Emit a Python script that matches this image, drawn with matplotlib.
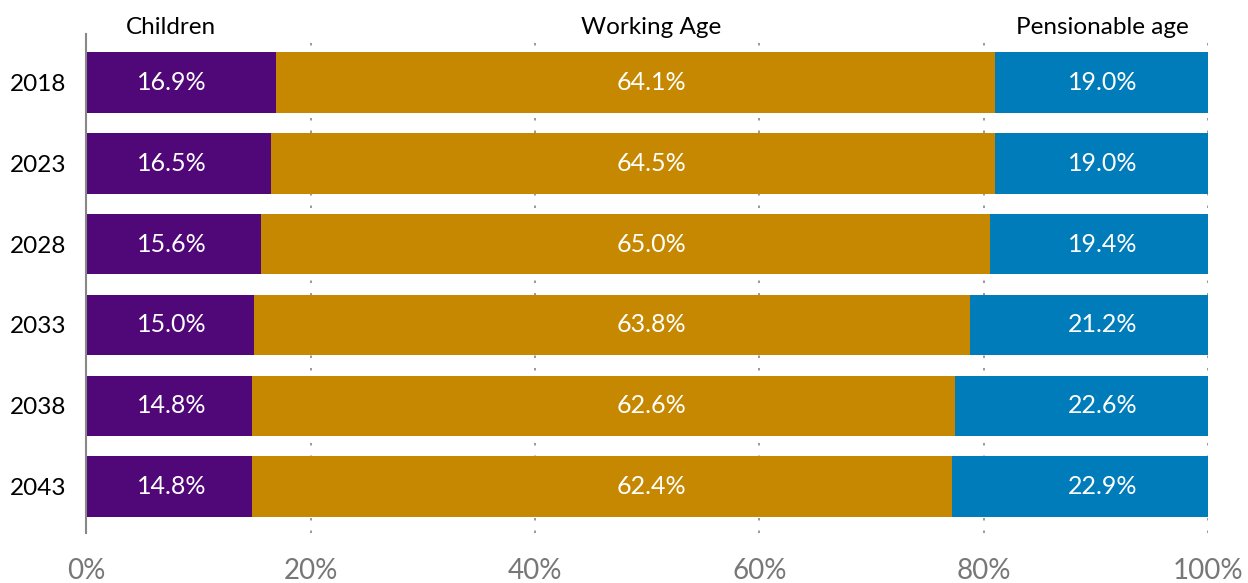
import matplotlib.pyplot as plt
import numpy as np

# Dados
anos = ["2018", "2023", "2028", "2033", "2038", "2043"]
criancas = [16.9, 16.5, 15.6, 15.0, 14.8, 14.8]
idade_ativa = [64.1, 64.5, 65.0, 63.8, 62.6, 62.4]
idade_reforma = [19.0, 19.0, 19.4, 21.2, 22.6, 22.9]
series_nomes = ["Children", "Working Age", "Pensionable age"]
cores = ["#500778", "#C58800", "#007CBA"]

plt.rcParams['font.family'] = ['Lato', 'DejaVu Sans']

fig = plt.figure(figsize=(12.48, 5.83), dpi=100)
ax = fig.add_axes([0.069, 0.086, 0.899, 0.856])

# Os rótulos e títulos ficam em colunas fixas (como no original)
pos_colunas = [7.6, 50.4, 90.6]

y = np.arange(len(anos))
esquerda = np.zeros(len(anos))
for valores, cor, xc in zip([criancas, idade_ativa, idade_reforma], cores, pos_colunas):
    valores = np.array(valores)
    ax.barh(y, valores, left=esquerda, height=0.75, color=cor, zorder=2)
    for yi, v in zip(y, valores):
        ax.text(xc, yi, f"{v:.1f}%", ha="center", va="center",
                color="white", fontsize=18, zorder=3)
    esquerda = esquerda + valores

# Titulos das series no topo
for nome, xp in zip(series_nomes, pos_colunas):
    ax.text(xp, -0.68, nome, ha="center", va="center", fontsize=17.5, color="black")

ax.set_xlim(0, 100)
ax.set_ylim(5.57, -0.6)
ax.set_yticks(y)
ax.set_yticklabels(anos, fontsize=17.5)
ax.set_xticks([0, 20, 40, 60, 80, 100])
ax.set_xticklabels(["0%", "20%", "40%", "60%", "80%", "100%"], fontsize=20, color="#777777")
ax.tick_params(axis="both", length=0)
ax.tick_params(axis="x", pad=18)
ax.tick_params(axis="y", pad=14)

ax.grid(axis="x", color="#888888", linestyle=(0, (1.5, 6)), linewidth=1.2, zorder=0)
ax.set_axisbelow(True)
for lado in ["top", "right", "bottom"]:
    ax.spines[lado].set_visible(False)
ax.spines["left"].set_color("#888888")
ax.spines["left"].set_linewidth(1.5)
ax.spines["left"].set_zorder(4)

fig.savefig("out.png", dpi=100)
